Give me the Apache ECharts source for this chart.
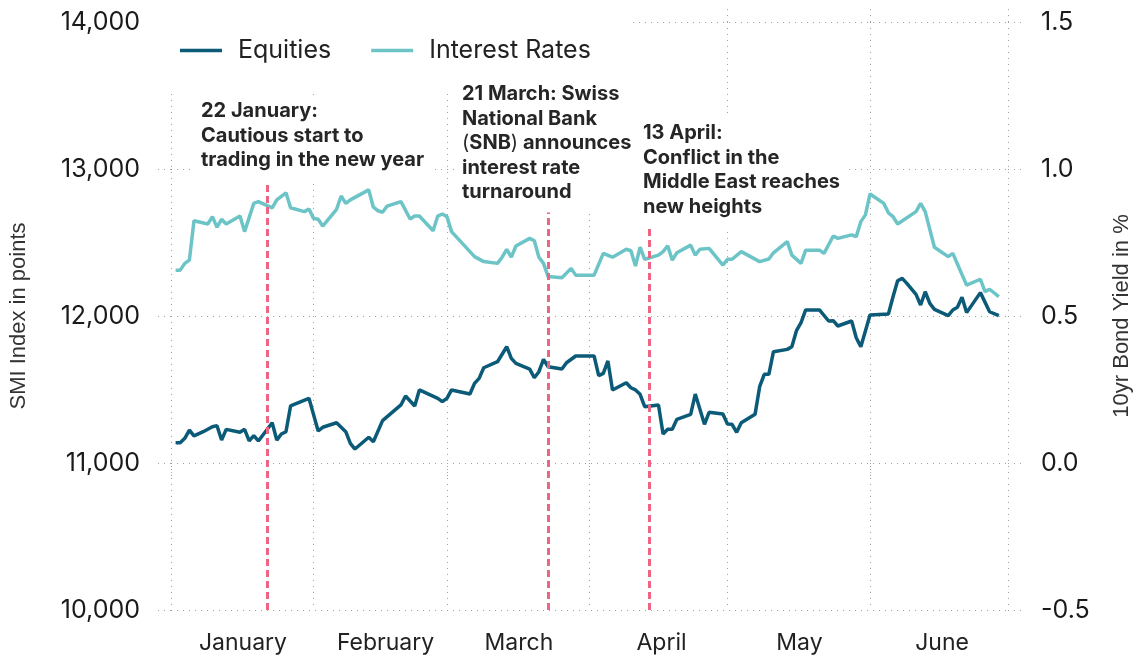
<!DOCTYPE html>
<html>
<head>
<meta charset="utf-8">
<script src="https://cdn.jsdelivr.net/npm/echarts@6/dist/echarts.min.js"></script>
<style>
  html, body { margin: 0; padding: 0; background: #fff; }
  #chart { width: 1141px; height: 657px; }
</style>
</head>
<body>
<div id="chart"></div>
<script>
// SMI index vs Swiss 10yr yield, H1 2024
const months = ['January', 'February', 'March', 'April', 'May', 'June']

const equityDates = ['01-02','01-03','01-04','01-05','01-06','01-08','01-10','01-11','01-12','01-13',
  '01-16','01-17','01-18','01-19','01-20','01-23','01-24','01-25','01-26','01-27',
  '01-31','02-02','02-03','02-06','02-08','02-09','02-10','02-13','02-14','02-16',
  '02-20','02-21','02-23','02-24','02-28','02-29','03-01','03-02','03-06','03-07',
  '03-08','03-09','03-12','03-13','03-14','03-15','03-16','03-19','03-20','03-21',
  '03-22','03-23','03-26','03-27','03-29','04-02','04-03','04-04','04-05','04-06',
  '04-09','04-10','04-11','04-12','04-13','04-16','04-17','04-18','04-19','04-20',
  '04-23','04-24','04-26','04-27','04-30','05-01','05-02','05-03','05-04','05-07',
  '05-08','05-09','05-10','05-11','05-14','05-15','05-16','05-17','05-18','05-21',
  '05-23','05-24','05-25','05-28','05-29','05-30','06-01','06-05','06-06','06-07',
  '06-08','06-09','06-11','06-12','06-13','06-14','06-15','06-18','06-19','06-20',
  '06-21','06-22','06-25','06-27','06-29']
const equityValues = [11138, 11138, 11168, 11224, 11184, 11213, 11247, 11254, 11156, 11229,
  11209, 11229, 11150, 11186, 11150, 11274, 11156, 11197, 11213, 11388,
  11440, 11218, 11243, 11274, 11213, 11134, 11095, 11175, 11145, 11288,
  11395, 11456, 11388, 11497, 11440, 11417, 11440, 11497, 11469, 11542,
  11576, 11648, 11689, 11740, 11791, 11712, 11678, 11639, 11580, 11621,
  11705, 11655, 11639, 11682, 11728, 11728, 11594, 11610, 11694, 11497,
  11546, 11512, 11497, 11467, 11383, 11395, 11197, 11229, 11229, 11297,
  11331, 11469, 11263, 11345, 11333, 11265, 11263, 11209, 11274, 11331,
  11519, 11603, 11603, 11757, 11773, 11791, 11900, 11955, 12041, 12041,
  11966, 11968, 11932, 11966, 11852, 11791, 12007, 12014, 12131, 12240,
  12256, 12222, 12147, 12075, 12165, 12086, 12045, 12002, 12041, 12059,
  12127, 12023, 12159, 12029, 12002]

const rateDates = ['01-02','01-03','01-04','01-05','01-06','01-09','01-10','01-11','01-12','01-13',
  '01-16','01-17','01-19','01-20','01-23','01-24','01-26','01-27','01-30','01-31',
  '02-01','02-02','02-03','02-06','02-07','02-08','02-09','02-13','02-14','02-15',
  '02-16','02-17','02-20','02-22','02-23','02-24','02-27','02-28','02-29','03-01',
  '03-02','03-05','03-07','03-09','03-12','03-13','03-14','03-15','03-16','03-19',
  '03-20','03-21','03-22','03-23','03-26','03-28','03-29','04-02','04-04','04-06',
  '04-09','04-10','04-11','04-12','04-13','04-16','04-17','04-18','04-19','04-20',
  '04-23','04-24','04-25','04-27','04-30','05-01','05-02','05-04','05-08','05-10',
  '05-11','05-14','05-15','05-17','05-18','05-21','05-22','05-24','05-25','05-28',
  '05-29','05-30','05-31','06-01','06-04','06-05','06-06','06-07','06-11','06-12',
  '06-13','06-15','06-18','06-19','06-20','06-22','06-25','06-26','06-27','06-29']
const rateValues = [0.656, 0.656, 0.679, 0.690, 0.824, 0.813, 0.838, 0.802, 0.829, 0.813,
  0.840, 0.787, 0.883, 0.889, 0.868, 0.895, 0.919, 0.868, 0.855, 0.864,
  0.832, 0.829, 0.806, 0.863, 0.908, 0.883, 0.895, 0.929, 0.870, 0.858,
  0.853, 0.874, 0.889, 0.830, 0.840, 0.840, 0.790, 0.840, 0.847, 0.838,
  0.787, 0.736, 0.702, 0.685, 0.679, 0.700, 0.727, 0.700, 0.738, 0.764,
  0.756, 0.700, 0.679, 0.634, 0.630, 0.662, 0.639, 0.639, 0.713, 0.700,
  0.727, 0.722, 0.670, 0.734, 0.693, 0.707, 0.719, 0.739, 0.690, 0.715,
  0.741, 0.707, 0.727, 0.730, 0.673, 0.693, 0.693, 0.719, 0.685, 0.694,
  0.715, 0.753, 0.707, 0.679, 0.724, 0.724, 0.713, 0.772, 0.764, 0.776,
  0.770, 0.821, 0.844, 0.915, 0.883, 0.851, 0.838, 0.813, 0.855, 0.883,
  0.855, 0.734, 0.702, 0.713, 0.677, 0.605, 0.625, 0.583, 0.591, 0.566]

// event markers: where the dashed line sits and how high it reaches (SMI points)
const eventDates = ['01-22', '03-23', '04-14']
const eventTops = [12918, 12728, 12592]

const year = '2024-'
const font = 'Inter'
const darkBlue = '#0b5a78'
const lightTeal = '#6cc4c7'
const dotted = { color: '#a0a0a0', width: 1, type: [1, 5] }

const chart = echarts.init(document.getElementById('chart'))

const noteStyle = {
  fontFamily: font,
  fontSize: 20,
  fontWeight: 'bold',
  fill: '#262626',
  lineHeight: 24.5,
  backgroundColor: '#fff',
  padding: [4, 8, 8, 8],
  rich: {
    p: { fontFamily: font, fontSize: 20, fontWeight: 'normal', lineHeight: 24.5, fill: '#262626' }
  }
}
const notes = [
  { x: 193, y: 95, text: '22 January:\nCautious start to\ntrading in the new year' },
  { x: 454, y: 78, text: '21 March: Swiss\nNational Bank\n{p|(}SNB{p|)} announces\ninterest rate\nturnaround' },
  { x: 635, y: 117, text: '13 April:\nConflict in the\nMiddle East reaches\nnew heights' }
]

chart.setOption({
  animation: false,
  backgroundColor: '#fff',
  grid: {
    left: 168,
    right: 131,
    top: 22,
    bottom: 47
  },
  legend: {
    left: 152,
    top: 8,
    padding: [30, 37, 26, 28],
    backgroundColor: '#fff',
    icon: 'rect',
    itemWidth: 42,
    itemHeight: 3.5,
    itemGap: 40,
    textStyle: {
      fontFamily: font,
      fontSize: 25,
      color: '#222',
      padding: [0, 0, 0, 11]
    },
    data: ['Equities', 'Interest Rates']
  },
  xAxis: [{
    type: 'time',
    position: 'bottom',
    min: year + '01-01',
    max: year + '07-01',
    splitNumber: 7,
    axisLine: { show: false },
    axisTick: { show: true, length: 15, lineStyle: dotted },
    splitLine: { show: true, lineStyle: dotted },
    axisLabel: {
      hideOverlap: false,
      fontFamily: font,
      fontSize: 23,
      color: '#222',
      margin: 22,
      align: 'center',
      padding: [0, 0, 0, 144],
      formatter(val) {
        const d = new Date(val)
        return d.getDate() === 1 && d.getMonth() < 6 ? months[d.getMonth()] : ''
      }
    }
  }, {
    type: 'time',
    position: 'top',
    min: year + '01-01',
    max: year + '07-01',
    splitNumber: 7,
    axisLine: { show: false },
    axisTick: { show: true, length: 14, lineStyle: dotted },
    splitLine: { show: false },
    axisLabel: { show: false }
  }],
  yAxis: [{
    type: 'value',
    position: 'left',
    min: 10000,
    max: 14000,
    interval: 1000,
    name: 'SMI Index in points',
    nameLocation: 'middle',
    nameRotate: 90,
    nameGap: 141,
    nameTextStyle: { fontFamily: 'Liberation Sans', fontSize: 22, color: '#333' },
    axisLine: { show: false },
    axisTick: { show: true, length: 16, lineStyle: dotted },
    splitLine: { show: true, lineStyle: dotted },
    axisLabel: {
      fontFamily: font,
      fontSize: 25,
      color: '#1a1a1a',
      margin: 31,
      formatter: v => v.toLocaleString('en-US')
    }
  }, {
    type: 'value',
    position: 'right',
    min: -0.5,
    max: 1.5,
    interval: 0.5,
    name: '10yr Bond Yield in %',
    nameLocation: 'middle',
    nameRotate: 90,
    nameGap: 103,
    nameTextStyle: { fontFamily: 'Liberation Sans', fontSize: 22, color: '#333' },
    axisLine: { show: false },
    axisTick: { show: true, length: 13, lineStyle: dotted },
    splitLine: { show: false },
    axisLabel: {
      fontFamily: font,
      fontSize: 25,
      color: '#1a1a1a',
      margin: 33,
      formatter: v => v.toFixed(1)
    }
  }],
  series: [{
    name: 'Equities',
    type: 'line',
    yAxisIndex: 0,
    showSymbol: false,
    symbol: 'none',
    lineStyle: { color: darkBlue, width: 3.5 },
    itemStyle: { color: darkBlue },
    data: equityDates.map((d, i) => [year + d, equityValues[i]]),
    markLine: {
      silent: true,
      symbol: 'none',
      label: { show: false },
      lineStyle: { color: '#ef6482', width: 3, type: [7, 4] },
      data: eventDates.map((d, i) => [
        { coord: [year + d, 10000] },
        { coord: [year + d, eventTops[i]] }
      ])
    }
  }, {
    name: 'Interest Rates',
    type: 'line',
    yAxisIndex: 1,
    showSymbol: false,
    symbol: 'none',
    lineStyle: { color: lightTeal, width: 3.5 },
    itemStyle: { color: lightTeal },
    data: rateDates.map((d, i) => [year + d, rateValues[i]])
  }],
  graphic: notes.map(n => ({
    type: 'text',
    x: n.x,
    y: n.y,
    z: 100,
    silent: true,
    style: Object.assign({ text: n.text }, noteStyle)
  }))
})
</script>
</body>
</html>
